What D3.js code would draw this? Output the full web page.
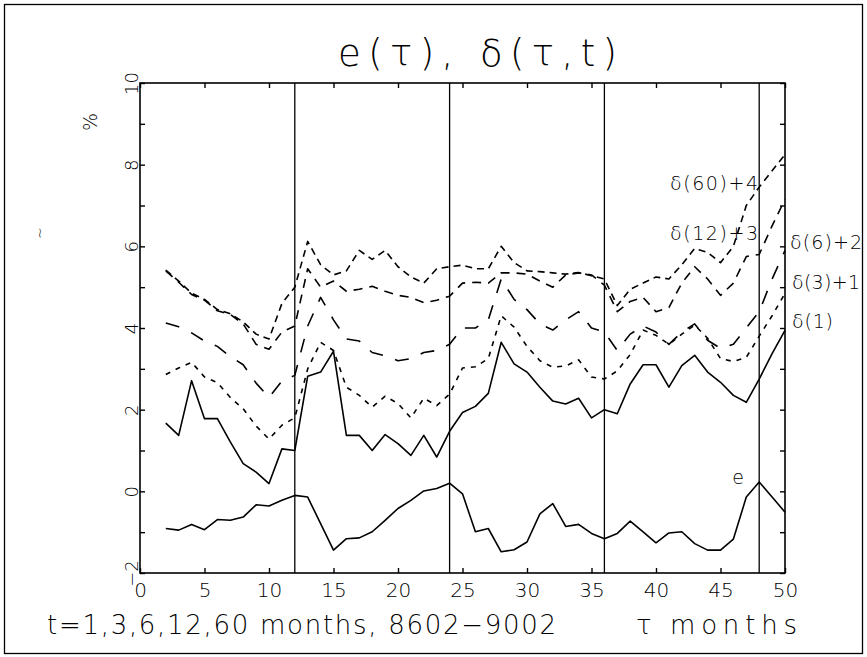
<!DOCTYPE html>
<html><head><meta charset="utf-8">
<script src="https://cdn.jsdelivr.net/npm/d3@7"></script>
<style>body{margin:0;background:#fff}</style>
</head><body>
<svg id="c" width="867" height="657"></svg>
<script>
const tau = [2,3,4,5,6,7,8,9,10,11,12,13,14,15,16,17,18,19,20,21,22,23,24,25,26,27,28,29,30,31,32,33,34,35,36,37,38,39,40,41,42,43,44,45,46,47,48,49,50];
const eVals = [-0.91,-0.95,-0.81,-0.94,-0.69,-0.71,-0.63,-0.33,-0.36,-0.22,-0.10,-0.14,-0.79,-1.44,-1.16,-1.14,-0.99,-0.71,-0.42,-0.22,0.01,0.07,0.20,-0.06,-0.99,-0.91,-1.48,-1.43,-1.24,-0.55,-0.30,-0.86,-0.81,-1.03,-1.16,-1.03,-0.73,-0.99,-1.26,-1.02,-0.99,-1.28,-1.44,-1.44,-1.17,-0.14,0.23,-0.14,-0.51];
const d1 = [1.67,1.37,2.71,1.78,1.78,1.21,0.68,0.47,0.19,1.04,1.00,2.82,2.92,3.43,1.37,1.37,1.00,1.39,1.17,0.88,1.37,0.84,1.47,1.93,2.08,2.40,3.65,3.12,2.92,2.55,2.21,2.14,2.28,1.80,2.00,1.90,2.63,3.10,3.10,2.55,3.08,3.33,2.92,2.67,2.35,2.18,2.75,3.37,3.94];
const d3p1 = [2.86,3.02,3.16,2.80,2.66,2.30,2.02,1.60,1.28,1.62,1.80,3.00,3.65,3.45,2.55,2.35,2.06,2.33,2.15,1.80,2.28,2.10,2.38,3.02,3.05,3.25,4.30,4.02,3.55,3.20,3.04,3.07,3.22,2.80,2.75,2.95,3.35,3.95,3.82,3.60,3.85,4.07,3.75,3.25,3.18,3.28,3.80,4.30,4.85];
const d6p2 = [4.12,4.03,3.88,3.68,3.55,3.30,3.10,2.65,2.30,2.70,2.84,4.05,4.75,4.20,3.73,3.68,3.40,3.32,3.20,3.25,3.40,3.45,3.60,4.00,4.00,4.20,5.20,4.70,4.45,4.10,3.95,4.20,4.40,4.00,3.90,3.45,3.85,4.05,3.90,3.60,3.90,4.10,3.70,3.50,3.60,4.00,4.40,5.20,5.90];
const d12p3 = [5.40,5.12,4.82,4.68,4.42,4.33,4.10,3.60,3.48,3.90,4.05,5.45,5.00,5.15,4.90,4.95,5.02,4.90,4.80,4.75,4.62,4.68,4.78,5.10,5.12,5.10,5.35,5.35,5.32,5.15,5.00,5.30,5.35,5.30,5.05,4.40,4.65,4.75,4.40,4.50,5.10,5.50,5.20,4.80,5.10,5.75,5.80,6.50,7.15];
const d60p4 = [5.42,5.15,4.85,4.70,4.45,4.35,4.15,3.85,3.73,4.60,5.00,6.12,5.55,5.30,5.40,5.90,5.68,5.90,5.50,5.25,5.10,5.45,5.50,5.54,5.45,5.45,6.00,5.60,5.40,5.38,5.35,5.32,5.36,5.28,5.20,4.55,4.95,5.10,5.25,5.20,5.55,5.95,5.85,5.60,6.00,7.00,7.45,7.85,8.25];
const xTicks = [0,5,10,15,20,25,30,35,40,45,50];
const yTicks = [-2,-1,0,1,2,3,4,5,6,7,8,9,10];
const breaks = [12,24,36,48];
const seriesNames = ["e","δ(1)","δ(3)+1","δ(6)+2","δ(12)+3","δ(60)+4"];
const seriesData = [eVals,d1,d3p1,d6p2,d12p3,d60p4];
const dashes = [null,null,"5,6","14,13","9,7","7,5"];

const svg = d3.select("#c");
const FONT = "'DejaVu Sans', 'Liberation Sans', sans-serif";
svg.append("rect").attr("x",0).attr("y",0).attr("width",867).attr("height",657).attr("fill","#fff");
svg.append("rect").attr("x",4.5).attr("y",4.5).attr("width",858).attr("height",649)
  .attr("fill","none").attr("stroke","#000").attr("stroke-width",1.3);

const x = d3.scaleLinear().domain([0,50]).range([140,785]);
const y = d3.scaleLinear().domain([-2,10]).range([573,83]);

svg.append("rect").attr("x",x(0)).attr("y",y(10)).attr("width",x(50)-x(0)).attr("height",y(-2)-y(10))
  .attr("fill","none").attr("stroke","#000").attr("stroke-width",1.6);

const gb = svg.append("g").attr("transform",`translate(0,${y(-2)})`)
  .call(d3.axisBottom(x).tickValues(xTicks).tickSizeInner(-5).tickSizeOuter(0).tickPadding(10).tickFormat(d3.format("d")));
const gt = svg.append("g").attr("transform",`translate(0,${y(10)})`)
  .call(d3.axisTop(x).tickValues(xTicks).tickSizeInner(-5).tickSizeOuter(0).tickFormat(""));
const gl = svg.append("g").attr("transform",`translate(${x(0)},0)`)
  .call(d3.axisLeft(y).tickValues(yTicks).tickSizeInner(-5).tickSizeOuter(0).tickFormat(d => d%2===0 ? d3.format("d")(d) : ""));
const gr = svg.append("g").attr("transform",`translate(${x(50)},0)`)
  .call(d3.axisRight(y).tickValues(yTicks).tickSizeInner(-5).tickSizeOuter(0).tickFormat(""));
[gb,gt,gl,gr].forEach(g => { g.select(".domain").remove(); g.selectAll("line").attr("stroke","#000").attr("stroke-width",1.4); });
gb.selectAll("text").attr("font-family",FONT).attr("font-weight",200).attr("font-size",20).attr("fill","#000").attr("dy","0.71em");
gl.selectAll("text").attr("font-family",FONT).attr("font-weight",200).attr("font-size",18).attr("fill","#000")
  .attr("x",null).attr("dy",null).attr("text-anchor","middle")
  .attr("transform","translate(-2,0) rotate(-90)");

svg.append("g").selectAll("line").data(breaks).join("line")
  .attr("x1",d=>x(d)).attr("x2",d=>x(d)).attr("y1",y(-2)).attr("y2",y(10))
  .attr("stroke","#000").attr("stroke-width",1.3);

const line = d3.line().x((d,i)=>x(tau[i])).y(d=>y(d));
svg.append("g").selectAll("path").data(seriesData).join("path")
  .attr("d",d=>line(d)).attr("fill","none").attr("stroke","#000").attr("stroke-width",1.6)
  .attr("stroke-dasharray",(d,i)=>dashes[i]).attr("stroke-linejoin","round");

function txt(s,xx,yy,size,opts={}){
  const t = svg.append("text").attr("x",xx).attr("y",yy).attr("font-family",FONT).attr("font-weight",200)
    .attr("font-size",size).attr("fill","#000").attr("text-anchor",opts.anchor||"start").text(s);
  if(opts.len){ t.attr("textLength",opts.len).attr("lengthAdjust","spacing"); }
  if(opts.rot){ t.attr("transform",`rotate(${opts.rot},${xx},${yy})`); }
  return t;
}
txt("e(τ),  δ(τ,t)",338,66,37,{len:279});
txt("%",97,122,19,{anchor:"middle",rot:-90});
txt("~",45,233,14,{anchor:"middle",rot:-90});
txt("t=1,3,6,12,60 months, 8602−9002",47,634,26,{len:509});
txt("τ",636,634,26);
txt("months",670,634,26,{len:127});
txt(seriesNames[5],758,190,19,{anchor:"end",len:88});
txt(seriesNames[4],758,240,19,{anchor:"end",len:88});
txt(seriesNames[3],790,249,19,{len:72});
txt(seriesNames[2],792,289,19,{len:68});
txt(seriesNames[1],792,328,19,{len:41});
txt(seriesNames[0],738,484,19,{anchor:"middle"});
</script>
</body></html>
